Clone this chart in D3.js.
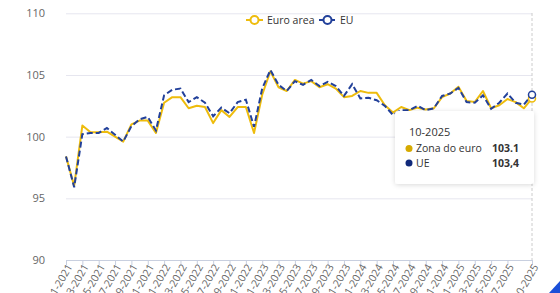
<!DOCTYPE html>
<html>
<head>
<meta charset="utf-8">
<script src="https://cdn.jsdelivr.net/npm/d3@7"></script>
<style>
  body { margin: 0; background: #fff; }
  text { font-family: "Open Sans", "Noto Sans", sans-serif; }
</style>
</head>
<body>
<div id="chart"></div>
<script>
// months, 1-2021 .. 10-2025
var months = ["1-2021","2-2021","3-2021","4-2021","5-2021","6-2021","7-2021","8-2021","9-2021","10-2021","11-2021","12-2021",
  "1-2022","2-2022","3-2022","4-2022","5-2022","6-2022","7-2022","8-2022","9-2022","10-2022","11-2022","12-2022",
  "1-2023","2-2023","3-2023","4-2023","5-2023","6-2023","7-2023","8-2023","9-2023","10-2023","11-2023","12-2023",
  "1-2024","2-2024","3-2024","4-2024","5-2024","6-2024","7-2024","8-2024","9-2024","10-2024","11-2024","12-2024",
  "1-2025","2-2025","3-2025","4-2025","5-2025","6-2025","7-2025","8-2025","9-2025","10-2025"]

var tickLabels = ["1-2021","3-2021","5-2021","7-2021","9-2021","11-2021",
  "1-2022","3-2022","5-2022","7-2022","9-2022","11-2022",
  "1-2023","3-2023","5-2023","7-2023","9-2023","11-2023",
  "1-2024","3-2024","5-2024","7-2024","9-2024","11-2024",
  "1-2025","3-2025","5-2025","7-2025","10-2025"]

var euroArea = [98.4,96.0,100.9,100.35,100.35,100.4,100.0,99.6,101.0,101.3,101.3,100.3,
  102.75,103.2,103.2,102.3,102.5,102.4,101.1,102.15,101.6,102.4,102.4,100.3,
  103.4,105.3,104.0,103.7,104.6,104.3,104.5,104.0,104.25,103.9,103.2,103.3,
  103.7,103.55,103.55,102.55,101.95,102.4,102.15,102.35,102.2,102.3,103.2,103.5,
  104.05,102.9,102.8,103.7,102.3,102.55,103.05,102.8,102.3,103.1]

var eu = [98.4,95.9,100.2,100.3,100.3,100.7,100.15,99.6,100.85,101.4,101.6,100.5,
  103.35,103.8,103.9,102.8,103.2,102.75,101.65,102.35,101.9,102.8,103.0,100.8,
  103.9,105.4,104.2,103.7,104.5,104.2,104.6,104.1,104.45,104.1,103.3,104.25,
  103.1,103.15,102.95,102.5,101.75,102.15,102.15,102.5,102.15,102.3,103.3,103.5,
  103.95,102.8,102.75,103.35,102.25,102.75,103.5,102.75,102.6,103.4]

var yTicks = [90, 95, 100, 105, 110]

var euroColor = "#eebc0c", euColor = "#22409a"

var svg = d3.select("#chart").append("svg")
  .attr("width", 560)
  .attr("height", 293)

var x = d3.scalePoint()
  .domain(months)
  .range([66, 532])

var y = d3.scaleLinear()
  .domain([90, 110])
  .range([260, 13.3])

// gridlines + y labels
svg.append("g")
  .attr("transform", "translate(66,0)")
  .call(d3.axisLeft(y).tickValues(yTicks).tickSize(-466).tickPadding(21))
  .call(function(g) {
    g.select(".domain").remove()
    g.selectAll(".tick line").attr("stroke", "#e6e6ef")
    g.selectAll(".tick text").attr("fill", "#666").style("font-size", "11px")
  })

// crosshair
svg.append("line")
  .attr("x1", x("10-2025")).attr("x2", x("10-2025"))
  .attr("y1", 13).attr("y2", 260)
  .attr("stroke", "#cccccc")
  .attr("stroke-dasharray", "3,2")

// x axis
svg.append("g")
  .attr("transform", "translate(0,260)")
  .call(d3.axisBottom(x).tickValues(tickLabels).tickSize(5).tickSizeOuter(0))
  .call(function(g) {
    g.select(".domain").attr("stroke", "#c8cfdf")
    g.selectAll(".tick line").attr("stroke", "#c8cfdf")
    g.selectAll(".tick text")
      .attr("fill", "#666")
      .style("font-size", "10.5px")
      .attr("text-anchor", "end")
      .attr("transform", "translate(3,5) rotate(-60)")
      .attr("dy", "0.35em")
      .attr("y", 0)
  })

var line = d3.line()
  .x(function(d, i) { return x(months[i]) })
  .y(function(d) { return y(d) })

svg.append("path")
  .datum(euroArea)
  .attr("d", line)
  .attr("fill", "none")
  .attr("stroke", euroColor)
  .attr("stroke-width", 2)
  .attr("stroke-linejoin", "round")

svg.append("path")
  .datum(eu)
  .attr("d", line)
  .attr("fill", "none")
  .attr("stroke", euColor)
  .attr("stroke-width", 2)
  .attr("stroke-dasharray", "6,3")

// hover markers on last point
var last = months.length - 1
svg.append("circle")
  .attr("cx", x(months[last])).attr("cy", y(euroArea[last])).attr("r", 3.5)
  .attr("fill", "#fff").attr("stroke", euroColor).attr("stroke-width", 1.5)
svg.append("circle")
  .attr("cx", x(months[last])).attr("cy", y(eu[last])).attr("r", 3.5)
  .attr("fill", "#fff").attr("stroke", euColor).attr("stroke-width", 1.5)

// legend
var legend = svg.append("g").attr("transform", "translate(246,20)")
legend.append("line").attr("x1", 0).attr("x2", 17).attr("stroke", euroColor).attr("stroke-width", 2)
legend.append("circle").attr("cx", 8.5).attr("r", 4).attr("fill", "#fff").attr("stroke", euroColor).attr("stroke-width", 2)
legend.append("text").attr("x", 21).attr("dy", "0.35em").attr("fill", "#333").style("font-size", "10.5px").text("Euro area")
legend.append("line").attr("x1", 73).attr("x2", 90).attr("stroke", euColor).attr("stroke-width", 2).attr("stroke-dasharray", "4,2")
legend.append("circle").attr("cx", 81.5).attr("r", 4).attr("fill", "#fff").attr("stroke", euColor).attr("stroke-width", 2)
legend.append("text").attr("x", 94).attr("dy", "0.35em").attr("fill", "#333").style("font-size", "10.5px").text("EU")

// tooltip
var defs = svg.append("defs")
var f = defs.append("filter").attr("id", "shadow").attr("x", "-20%").attr("y", "-20%").attr("width", "140%").attr("height", "140%")
f.append("feDropShadow").attr("dx", 0).attr("dy", 1).attr("stdDeviation", 2.5).attr("flood-color", "#000").attr("flood-opacity", 0.15)

var tip = svg.append("g").attr("transform", "translate(395,111)")
tip.append("rect").attr("width", 139).attr("height", 73).attr("rx", 3)
  .attr("fill", "#fff").attr("filter", "url(#shadow)")
tip.append("text").attr("x", 14).attr("y", 25).attr("fill", "#333").style("font-size", "11px").text(months[last])
var rows = [["Zona do euro", "103.1", "#d6aa00"], ["UE", "103,4", "#10297a"]]
rows.forEach(function(r, i) {
  var cy = 37.5 + i * 14.5
  tip.append("circle").attr("cx", 14).attr("cy", cy).attr("r", 3.5).attr("fill", r[2])
  tip.append("text").attr("x", 21).attr("y", cy).attr("dy", "0.35em").attr("fill", "#333").style("font-size", "10.5px").text(r[0])
  tip.append("text").attr("x", 124).attr("y", cy).attr("dy", "0.35em").attr("text-anchor", "end")
    .attr("fill", "#333").style("font-size", "10.5px").style("font-weight", "bold").text(r[1])
})

// corner shape
svg.append("path")
  .attr("d", "M549,293 L560,281 L560,293 Z")
  .attr("fill", "#1b4fd8")
</script>
</body>
</html>
